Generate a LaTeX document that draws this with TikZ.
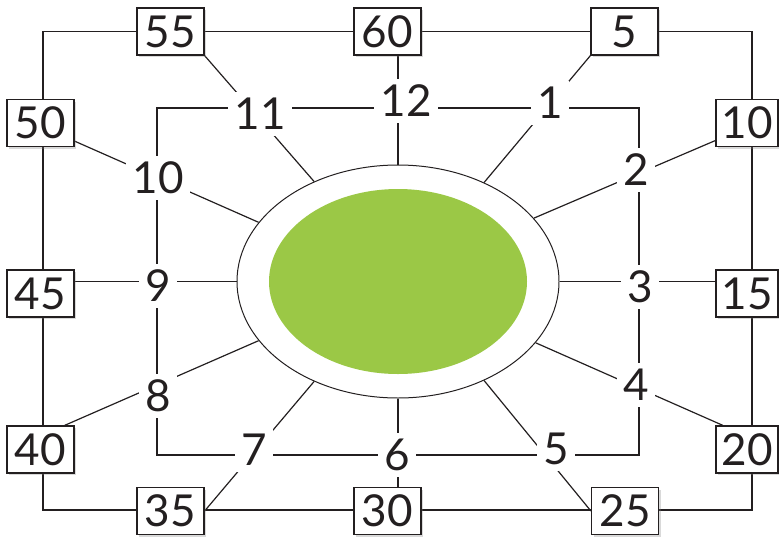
\documentclass[tikz,border=0pt]{standalone}
\usepackage{fontspec}
\setmainfont{Lato}
\usetikzlibrary{shapes.geometric,shadows,backgrounds}
\definecolor{leafgreen}{HTML}{9BC846}
\definecolor{ink}{HTML}{231F20}

\begin{document}
\begin{tikzpicture}[x=1pt,y=-1pt,font=\fontsize{44}{48}\selectfont,text=ink,
  minbox/.style={draw=ink,line width=1.2pt,fill=white,minimum width=67pt,minimum height=47pt,inner sep=0pt,
    drop shadow={shadow xshift=2pt,shadow yshift=-2pt,opacity=0.3}},
  hour/.style={fill=white,inner sep=6pt},
  rail/.style={draw=ink,line width=1.2pt}]
\useasboundingbox (0,0) rectangle (779,538);
\node[ellipse,draw=ink,line width=1pt,fill=white,minimum width=322pt,minimum height=233pt,inner sep=0pt] (oval) at (398,281.5) {};
\node[ellipse,fill=leafgreen,minimum width=258pt,minimum height=185pt,inner sep=0pt] (pool) at (oval) {};
\node[minbox] (b55) at (170.5,31.5) {55};
\node[minbox] (b60) at (387.5,31.5) {60};
\node[minbox] (b5) at (624.5,31.5) {5};
\node[minbox,minimum width=62pt] (b10) at (747,123) {10};
\node[minbox,minimum width=62pt] (b15) at (747,293.5) {15};
\node[minbox,minimum width=62pt] (b20) at (747,449.5) {20};
\node[minbox] (b25) at (625,511) {25};
\node[minbox] (b30) at (387.5,511) {30};
\node[minbox] (b35) at (170.5,511) {35};
\node[minbox] (b40) at (40.5,449.5) {40};
\node[minbox] (b45) at (40.5,293.5) {45};
\node[minbox] (b50) at (40.5,123) {50};
\node[hour] (h12) at (406,101) {12};
\node[hour] (h1) at (550,103) {1};
\node[hour] (h2) at (636,170) {2};
\node[hour] (h3) at (640,287) {3};
\node[hour] (h4) at (636,385) {4};
\node[hour] (h5) at (556,449) {5};
\node[hour] (h6) at (397,455) {6};
\node[hour] (h7) at (254,450) {7};
\node[hour] (h8) at (158,396) {8};
\node[hour] (h9) at (158,286) {9};
\node[hour] (h10) at (158,178) {10};
\node[hour] (h11) at (260,114) {11};
\coordinate (outerNW) at (43,31.7);
\coordinate (outerSE) at (752,510);
\coordinate (innerNW) at (157,108);
\coordinate (innerSE) at (639,455);
\begin{scope}[on background layer]
\draw[rail] (outerNW) rectangle (outerSE);
\draw[rail] (innerNW) rectangle (innerSE);
\draw[rail] (oval.north) -- (oval.north|-b60.south);
\draw[rail] (oval.south) -- (oval.south|-b30.north);
\draw[rail] (oval.west) -- (oval.west-|b45.east);
\draw[rail] (oval.east) -- (oval.east-|b15.west);
\draw[rail] (oval.49) -- (b5.south west);
\draw[rail] (oval.25) -- (b10.209);
\draw[rail] (oval.-24) -- (b20.135);
\draw[rail] (oval.-49) -- (b25.west);
\draw[rail] (oval.230) -- (b35.east);
\draw[rail] (oval.203) -- (b40.45);
\draw[rail] (oval.157) -- (b50.-28);
\draw[rail] (oval.130) -- (b55.south east);
\end{scope}
\end{tikzpicture}
\end{document}
